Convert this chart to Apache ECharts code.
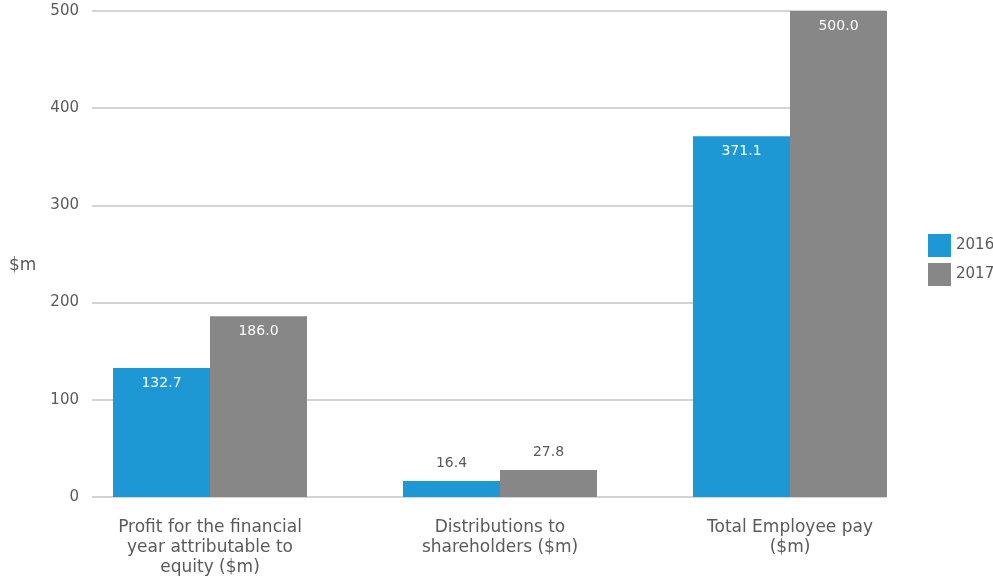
<!DOCTYPE html>
<html>
<head>
<meta charset="utf-8">
<script src="https://cdn.jsdelivr.net/npm/echarts@6/dist/echarts.min.js"></script>
<style>
  html, body { margin: 0; padding: 0; background: #fff; }
  #chart { width: 993px; height: 578px; }
</style>
</head>
<body>
<div id="chart"></div>
<script>
// Categories (line breaks as set on the axis)
const categories = [
  'Profit for the financial\nyear attributable to\nequity ($m)',
  'Distributions to\nshareholders ($m)',
  'Total Employee pay\n($m)'
];
const seriesNames = ['2016', '2017'];
const values2016 = [132.7, 16.4, 371.1];
const values2017 = [186.0, 27.8, 500.0];
const yTicks = [0, 100, 200, 300, 400, 500];

const BLUE = '#1e98d4';
const GREY = '#878787';
const TEXT = '#5a5a5a';
const FONT = '"DejaVu Sans", sans-serif';

// Values that are too small to hold their label inside the bar get it on top
const SMALL = 60;
function labelled(values) {
  return values.map(v => ({
    value: v,
    label: v < SMALL
      ? { position: 'top', distance: 11, color: TEXT }
      : { position: 'insideTop', distance: 8, color: '#ffffff' }
  }));
}

const chart = echarts.init(document.getElementById('chart'));
chart.setOption({
  animation: false,
  textStyle: { fontFamily: FONT },
  legend: {
    orient: 'vertical',
    left: 923,
    top: 229,
    itemWidth: 23,
    itemHeight: 23,
    itemGap: 6,
    icon: 'rect',
    data: seriesNames,
    textStyle: { color: TEXT, fontSize: 15, fontFamily: FONT }
  },
  graphic: [{
    type: 'text',
    left: 9,
    top: 257,
    style: { text: '$m', fill: TEXT, font: '17px ' + FONT }
  }],
  grid: [
    // grid carrying the value axis and its gridlines
    { left: 92, right: 107, top: 11, bottom: 81 },
    // grid carrying the bars and category labels
    { left: 65, right: 58, top: 11, bottom: 81 }
  ],
  xAxis: [
    { gridIndex: 0, type: 'category', data: categories, show: false },
    {
      gridIndex: 1,
      type: 'category',
      data: categories,
      axisLine: { show: false },
      axisTick: { show: false },
      axisLabel: {
        interval: 0,
        margin: 21,
        color: TEXT,
        fontSize: 17,
        lineHeight: 20,
        fontFamily: FONT
      }
    }
  ],
  yAxis: [
    {
      gridIndex: 0,
      type: 'value',
      min: yTicks[0],
      max: yTicks[yTicks.length - 1],
      interval: 100,
      axisLine: { show: false },
      axisTick: { show: false },
      axisLabel: { color: TEXT, fontSize: 15, margin: 13, fontFamily: FONT },
      splitLine: { lineStyle: { color: '#c6c6c6', width: 1.5 } }
    },
    {
      gridIndex: 1,
      type: 'value',
      min: yTicks[0],
      max: yTicks[yTicks.length - 1],
      show: false,
      splitLine: { show: false }
    }
  ],
  series: [
    {
      name: seriesNames[0],
      type: 'bar',
      xAxisIndex: 1,
      yAxisIndex: 1,
      barWidth: 97,
      barGap: '0%',
      itemStyle: { color: BLUE },
      label: {
        show: true,
        fontSize: 14,
        fontFamily: FONT,
        formatter: p => p.value.toFixed(1)
      },
      data: labelled(values2016)
    },
    {
      name: seriesNames[1],
      type: 'bar',
      xAxisIndex: 1,
      yAxisIndex: 1,
      barWidth: 97,
      barGap: '0%',
      itemStyle: { color: GREY },
      label: {
        show: true,
        fontSize: 14,
        fontFamily: FONT,
        formatter: p => p.value.toFixed(1)
      },
      data: labelled(values2017)
    }
  ]
});
</script>
</body>
</html>
